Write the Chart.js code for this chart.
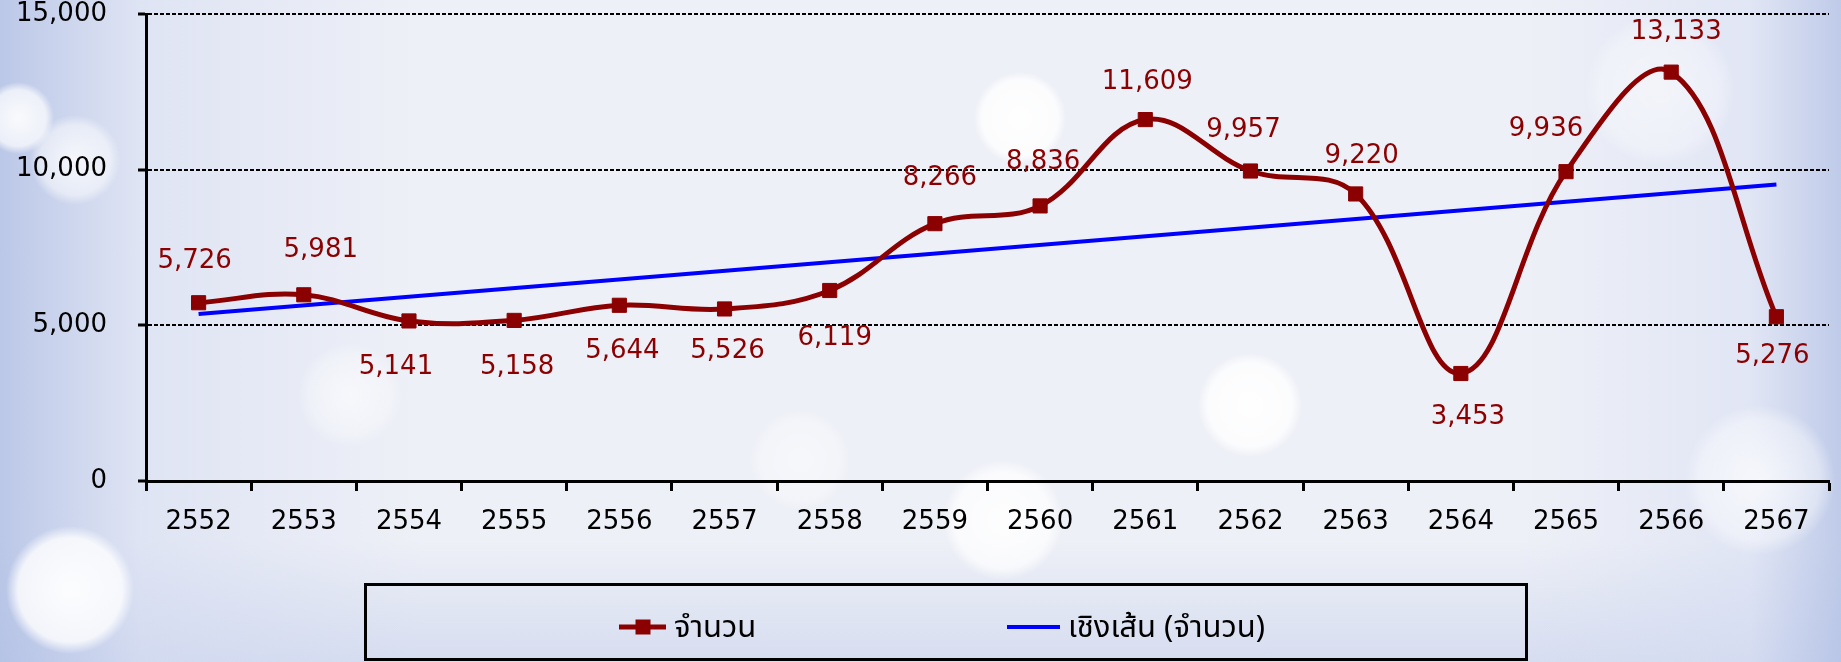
<!DOCTYPE html>
<html>
<head>
<meta charset="utf-8">
<script src="https://cdn.jsdelivr.net/npm/chart.js@4.4.1/dist/chart.umd.min.js"></script>
<style>
  body { margin: 0; }
  #wrap {
    position: relative;
    width: 1841px;
    height: 662px;
    overflow: hidden;
    background:
      radial-gradient(circle at 1020px 118px, rgba(255,255,255,0.95) 0, rgba(255,255,255,0.8) 38px, rgba(255,255,255,0) 46px),
      radial-gradient(circle at 1250px 405px, rgba(255,255,255,0.95) 0, rgba(255,255,255,0.8) 42px, rgba(255,255,255,0) 52px),
      radial-gradient(circle at 1003px 520px, rgba(255,255,255,0.9) 0, rgba(255,255,255,0.7) 48px, rgba(255,255,255,0) 60px),
      radial-gradient(circle at 70px 590px, rgba(255,255,255,0.95) 0, rgba(255,255,255,0.8) 52px, rgba(255,255,255,0) 64px),
      radial-gradient(circle at 18px 118px, rgba(255,255,255,0.9) 0, rgba(255,255,255,0.7) 28px, rgba(255,255,255,0) 36px),
      radial-gradient(circle at 75px 160px, rgba(255,255,255,0.8) 0, rgba(255,255,255,0.5) 35px, rgba(255,255,255,0) 45px),
      radial-gradient(circle at 1760px 480px, rgba(255,255,255,0.7) 0, rgba(255,255,255,0.4) 60px, rgba(255,255,255,0) 75px),
      radial-gradient(circle at 1660px 90px, rgba(255,255,255,0.5) 0, rgba(255,255,255,0.3) 60px, rgba(255,255,255,0) 75px),
      radial-gradient(circle at 350px 395px, rgba(255,255,255,0.6) 0, rgba(255,255,255,0.3) 40px, rgba(255,255,255,0) 52px),
      radial-gradient(circle at 800px 460px, rgba(255,255,255,0.5) 0, rgba(255,255,255,0.3) 40px, rgba(255,255,255,0) 50px),
      linear-gradient(90deg, rgba(170,186,226,0.75) 0, rgba(205,214,240,0.45) 140px, rgba(238,240,248,0) 420px, rgba(238,240,248,0) 1520px, rgba(210,218,242,0.45) 1750px, rgba(175,190,228,0.75) 1841px),
      linear-gradient(180deg, rgba(240,242,249,0) 0, rgba(240,242,249,0) 540px, rgba(195,206,234,0.55) 662px),
      #eef0f7;
  }
  #chart { position: absolute; left: 0; top: 0; }
  #legend {
    position: absolute;
    left: 364px;
    top: 583px;
    width: 1158px;
    height: 72px;
    border: 3px solid #000;
    font-family: "Noto Sans Thai", "Noto Sans", "DejaVu Sans", sans-serif;
    font-size: 31px;
    color: #000;
  }
  .item { position: absolute; top: 24px; height: 34px; display: flex; align-items: center; }
  .mk { position: relative; display: inline-block; height: 34px; margin-right: 8px; }
  .mk .ln { position: absolute; left: 0; right: 0; top: 50%; transform: translateY(-50%); }
  .mk .sq { position: absolute; left: 50%; top: 50%; width: 15px; height: 15px; transform: translate(-50%, -50%); }
</style>
</head>
<body>
<div id="wrap">
  <canvas id="chart" width="1841" height="662"></canvas>
  <div id="legend"></div>
</div>
<script>
// data
const years = ['2552', '2553', '2554', '2555', '2556', '2557', '2558', '2559',
               '2560', '2561', '2562', '2563', '2564', '2565', '2566', '2567'];
const counts = [5726, 5981, 5141, 5158, 5644, 5526, 6119, 8266,
                8836, 11609, 9957, 9220, 3453, 9936, 13133, 5276];
// linear trend line, start and end values
const trendEnds = [5365, 9520];
const yTicks = [0, 5000, 10000, 15000];
const seriesNames = ['จำนวน', 'เชิงเส้น (จำนวน)'];

// where each value label sits relative to its point [dx, dy]
const labelOffsets = [
  [-4, -41], [17, -45], [-13, 46], [3, 47], [3, 46], [3, 42], [5, 48], [5, -45],
  [3, -44], [2, -37], [-7, -41], [6, -38], [7, 44], [-20, -42], [5, -40], [-4, 40]
];

const darkRed = '#8B0000';
const axisFont = { family: '"DejaVu Sans", sans-serif', size: 26, lineHeight: 1 };

const trendData = years.map(function(y, i) {
  if (i === 0) return trendEnds[0];
  if (i === years.length - 1) return trendEnds[1];
  return null;
});

const valueLabels = {
  id: 'valueLabels',
  afterDatasetsDraw(chart) {
    const ctx = chart.ctx;
    const meta = chart.getDatasetMeta(0);
    ctx.save();
    ctx.font = '26px "DejaVu Sans", sans-serif';
    ctx.fillStyle = darkRed;
    ctx.textAlign = 'center';
    ctx.textBaseline = 'middle';
    meta.data.forEach(function(pt, i) {
      ctx.fillText(counts[i].toLocaleString('en-US'), pt.x + labelOffsets[i][0], pt.y + labelOffsets[i][1]);
    });
    ctx.restore();
  }
};

const ctx = document.getElementById('chart').getContext('2d');
const chart = new Chart(ctx, {
  type: 'line',
  data: {
    labels: years,
    datasets: [{
      label: seriesNames[0],
      data: counts,
      borderColor: darkRed,
      backgroundColor: darkRed,
      borderWidth: 5,
      tension: 0.38,
      pointStyle: 'rect',
      pointRadius: 10,
      pointBorderWidth: 1,
      order: 1
    }, {
      label: seriesNames[1],
      data: trendData,
      borderColor: '#0000FF',
      backgroundColor: '#0000FF',
      borderWidth: 4,
      spanGaps: true,
      tension: 0,
      pointRadius: 0,
      order: 2
    }]
  },
  options: {
    responsive: false,
    animation: false,
    locale: 'en-US',
    layout: { padding: { top: 14, right: 12, bottom: 121, left: 0 } },
    plugins: {
      legend: { display: false },
      tooltip: { enabled: false }
    },
    scales: {
      x: {
        offset: true,
        grid: {
          offset: true,
          drawOnChartArea: false,
          drawTicks: true,
          tickLength: 10,
          tickWidth: 3,
          tickColor: '#000'
        },
        border: { color: '#000', width: 3 },
        ticks: { color: '#000', font: axisFont, padding: 18 },
        afterFit: function(s) { s.height = 60; s.paddingLeft = 0; s.paddingRight = 0; }
      },
      y: {
        min: yTicks[0],
        max: yTicks[yTicks.length - 1],
        afterBuildTicks: function(s) { s.ticks = yTicks.map(function(v) { return { value: v }; }); },
        grid: {
          color: '#000',
          lineWidth: 2,
          tickLength: 8,
          tickWidth: 3,
          tickColor: '#000',
          tickBorderDash: []
        },
        border: { color: '#000', width: 3, dash: [4, 2] },
        ticks: { color: '#000', font: axisFont, padding: 31 },
        afterFit: function(s) { s.width = 146; s.paddingTop = 0; s.paddingBottom = 0; }
      }
    }
  },
  plugins: [valueLabels]
});

// legend built from the chart's datasets
const legendEl = document.getElementById('legend');
const legendLeft = [252, 640];
chart.data.datasets.forEach(function(ds, i) {
  const item = document.createElement('div');
  item.className = 'item';
  item.style.left = legendLeft[i] + 'px';
  const mk = document.createElement('span');
  mk.className = 'mk';
  mk.style.width = (i === 0 ? 47 : 53) + 'px';
  const ln = document.createElement('span');
  ln.className = 'ln';
  ln.style.height = ds.borderWidth + 'px';
  ln.style.background = ds.borderColor;
  mk.appendChild(ln);
  if (i === 0) {
    const sq = document.createElement('span');
    sq.className = 'sq';
    sq.style.background = ds.borderColor;
    mk.appendChild(sq);
  }
  item.appendChild(mk);
  const txt = document.createElement('span');
  txt.textContent = ds.label;
  item.appendChild(txt);
  legendEl.appendChild(item);
});
</script>
</body>
</html>
